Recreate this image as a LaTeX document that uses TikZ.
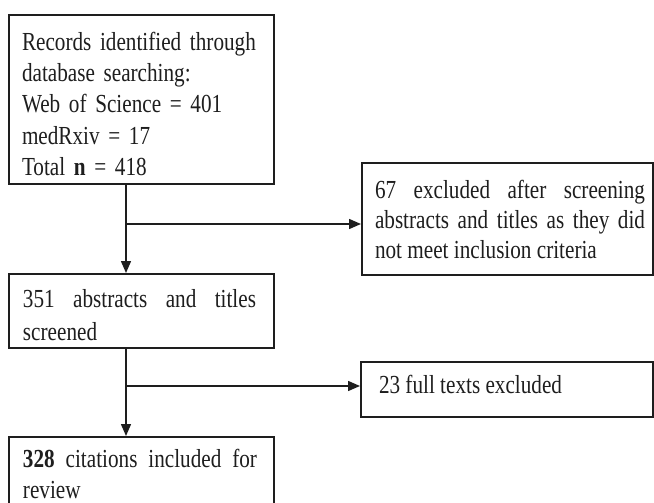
\documentclass[tikz,border=0pt]{standalone}
\usepackage{fontspec}
\setmainfont{Liberation Serif}[FakeStretch=0.815]
\usetikzlibrary{arrows.meta}
\definecolor{ink}{HTML}{1E1E1E}
\tolerance=10000
\hbadness=10000
\newcommand{\txtfont}[1]{\fontsize{26}{#1}\selectfont\spaceskip=5.3pt plus 2.7pt minus 1.8pt\relax}
\tikzset{
  box/.style={draw=ink, line width=1.8pt, rectangle, anchor=north west, inner sep=0pt},
  txt/.style={anchor=north west, inner sep=0pt, outer sep=0pt, text=ink},
  conn/.style={draw=ink, line width=1.5pt, -{Triangle[length=12pt,width=10pt]}},
}
\begin{document}
\begin{tikzpicture}[x=1pt,y=-1pt]
\useasboundingbox (0,0) rectangle (654,503);
\fill[white] (0,0) rectangle (654,503);
% boxes
\node[box, minimum width=265pt, minimum height=169pt] (b1) at (8,14) {};
\node[box, minimum width=291pt, minimum height=112pt] (b2) at (361,162) {};
\node[box, minimum width=265pt, minimum height=74pt] (b3) at (8,273) {};
\node[box, minimum width=292pt, minimum height=55pt] (b4) at (360,361) {};
\node[box, minimum width=265pt, minimum height=90pt] (b5) at (8,436) {};
% texts
\node[txt, text width=240pt, align=left, font=\txtfont{31.25}] (t1) at (22,28.6)
  {\strut Records identified through\\database searching:\\Web of Science = 401\\medRxiv = 17\\Total \textbf{n} = 418};
\node[txt, text width=270pt, align=justify, font=\txtfont{30}] (t2) at (375,177)
  {\strut 67 excluded after screening\linebreak abstracts and titles as they did\linebreak not meet inclusion criteria};
\node[txt, text width=233pt, align=justify, font=\txtfont{33}] (t3) at (23,283.9)
  {\strut 351 abstracts and titles\linebreak screened};
\node[txt, font=\txtfont{31.25}] (t4) at (379,372.1)
  {\strut 23 full texts excluded};
\node[txt, text width=234pt, align=justify, font=\txtfont{31}] (t5) at (23,445.3)
  {\strut\textbf{328} citations included for\linebreak review};
% connectors
\coordinate (j1) at (126,224);
\coordinate (j2) at (126,386);
\draw[conn] (b1.south -| j1) -- (b3.north -| j1);
\draw[conn] (j1) -- (j1 -| b2.west);
\draw[conn] (b3.south -| j2) -- (b5.north -| j2);
\draw[conn] (j2) -- (j2 -| b4.west);
\end{tikzpicture}
\end{document}
